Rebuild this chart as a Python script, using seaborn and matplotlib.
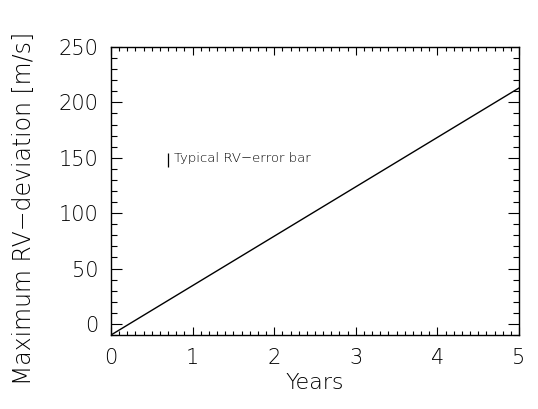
import matplotlib
matplotlib.use("Agg")
import matplotlib.pyplot as plt
import seaborn as sns
import pandas as pd
from matplotlib.ticker import MultipleLocator

# data
years = [0, 5]
rv_dev = [-10, 213]
err_x = 0.70
err_y = 148
err_size = 6.5

df = pd.DataFrame({"Years": years, "rv": rv_dev})

sns.set_theme(style="ticks")
plt.rcParams["font.family"] = ["DejaVu Sans"]
plt.rcParams["font.weight"] = "light"
plt.rcParams["axes.labelweight"] = "light"

fig = plt.figure(figsize=(5.38, 4.09), dpi=100)
ax = fig.add_axes([0.2063, 0.1809, 0.7584, 0.7042])

sns.lineplot(data=df, x="Years", y="rv", color="black", linewidth=1.0, ax=ax)
ax.errorbar([err_x], [err_y], yerr=[err_size], fmt="none", ecolor="black",
            elinewidth=0.9, capsize=0)
ax.text(err_x + 0.07, err_y + 2, "Typical RV\u2212error bar", fontsize=9.5,
        va="center", ha="left", color="black")

ax.set_xlim(0, 5)
ax.set_ylim(-10, 250)
ax.xaxis.set_major_locator(MultipleLocator(1))
ax.xaxis.set_minor_locator(MultipleLocator(0.1))
ax.yaxis.set_major_locator(MultipleLocator(50))
ax.yaxis.set_minor_locator(MultipleLocator(10))
ax.tick_params(which="both", direction="in", top=True, right=True,
               colors="black", width=0.8)
ax.tick_params(axis="both", which="major", labelsize=15, labelcolor="black")
ax.tick_params(axis="x", which="major", length=6, pad=9)
ax.tick_params(axis="x", which="minor", length=3)
ax.tick_params(axis="y", which="major", length=8, pad=9)
ax.tick_params(axis="y", which="minor", length=4)
for s in ax.spines.values():
    s.set_color("black")
    s.set_linewidth(1.0)

ax.set_xlabel("Years", fontsize=16, labelpad=4, color="black")
ax.set_ylabel("Maximum RV\u2212deviation [m/s]", fontsize=17, color="black")
ax.yaxis.set_label_coords(-0.183, 0.44)

fig.savefig("out.png", dpi=100)
